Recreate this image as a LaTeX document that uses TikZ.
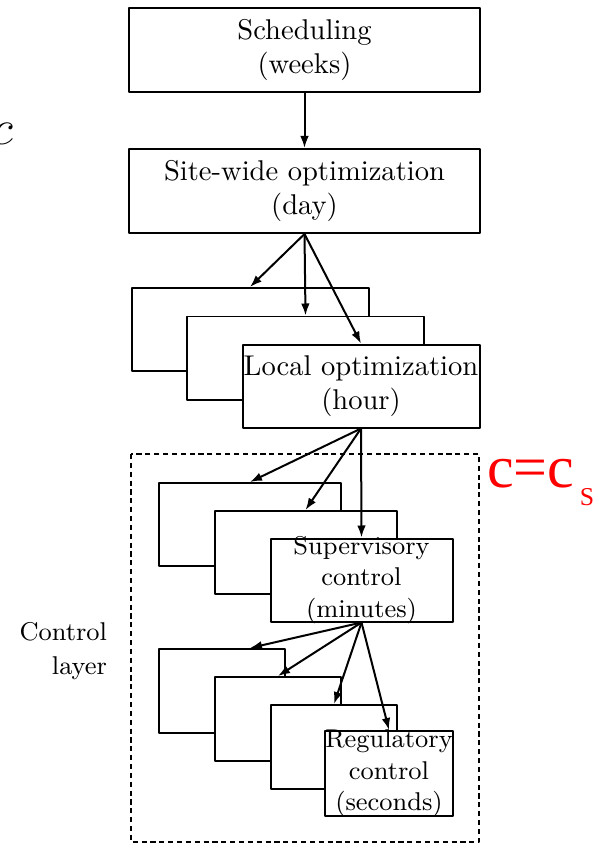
\documentclass[tikz,border=0pt]{standalone}
\usepackage{fontspec}
\newfontfamily\redfont{Liberation Serif}
\usetikzlibrary{arrows.meta}
\tikzset{
	stage/.style 2 args={draw, fill=white, inner sep=0pt, align=center, minimum width=#1*0.35pt, minimum height=#2*0.35pt},
	steptext/.style={font=\small, align=center},
}
\begin{document}
\begin{tikzpicture}[x=0.35pt, y=-0.35pt, line width=0.7pt, line join=round, >={Latex[length=4.2pt,width=3pt]}]
	\useasboundingbox (0,0) rectangle (596,844);
	\clip (0,0) rectangle (596,844);
	
	\node[anchor=base west, inner sep=0pt, font=\fontsize{18}{18}\selectfont] (cleft) at (-8,145) {$c$};
	
	\node[stage={351}{84}] (sched) at (304.5,50) {Scheduling\\(weeks)};
	\node[stage={351}{84}] (site) at (304.5,191) {Site-wide optimization\\(day)};
	
	\node[stage={237}{83}] (loc1) at (250,329.5) {};
	\node[stage={237}{83}] (loc2) at (305.5,358) {};
	\node[stage={237}{83}] (loc3) at (361,386) {Local optimization\\(hour)};
	
	\draw[dashed, dash pattern=on 1.8pt off 1.3pt, line width=0.55pt] (131,454) rectangle (479,842);
	\node[anchor=east, inner sep=0pt, align=right, font=\fontsize{9}{12}\selectfont] (layer) at (108,651) {Control\\layer};
	\node[anchor=base west, inner sep=0pt, text=red, font=\redfont\fontsize{21}{21}\selectfont] (cs) at (486,487) {c=c\hspace{2pt}\raisebox{-6.3pt}{\fontsize{9}{9}\selectfont S}};
	
	\node[stage={182}{83}] (sup1) at (250,524.5) {};
	\node[stage={182}{83}] (sup2) at (305.5,552.5) {};
	\node[stage={182}{83}, label={[steptext]center:Supervisory\\control\\(minutes)}] (sup3) at (361.5,580) {};
	
	\node[stage={126}{84}] (reg1) at (222,691) {};
	\node[stage={126}{84}] (reg2) at (278,719) {};
	\node[stage={126}{84}] (reg3) at (334,747) {};
	\node[stage={128}{85}, label={[steptext]center:Regulatory\\control\\(seconds)}] (reg4) at (389,773.5) {};
	
	% arrows between the levels
	\draw[->] (sched) -- (site);
	\foreach \n in {loc1,loc2,loc3} \draw[->] (site.south) -- (\n.north);
	\foreach \n in {sup1,sup2,sup3} \draw[->] (loc3.south) -- (\n.north);
	\draw[->] (sup3.south) -- ([xshift=9.8pt]reg1.north);
	\foreach \n in {reg2,reg3,reg4} \draw[->] (sup3.south) -- (\n.north);
\end{tikzpicture}
\end{document}
